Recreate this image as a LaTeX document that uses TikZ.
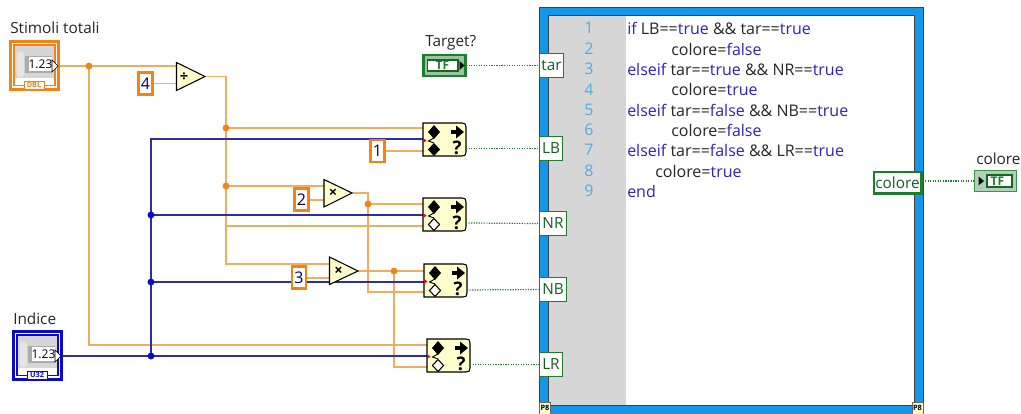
\documentclass[tikz,border=0pt]{standalone}
\usepackage{fontspec}
\setmainfont{Open Sans}
\definecolor{wo}{RGB}{240,172,95}
\definecolor{wod}{RGB}{245,130,20}
\definecolor{wb}{RGB}{45,45,170}
\definecolor{wbd}{RGB}{10,10,200}
\definecolor{gd}{RGB}{30,125,45}
\definecolor{lb}{RGB}{20,150,235}
\definecolor{yel}{RGB}{255,255,205}
\definecolor{kw}{RGB}{45,35,190}
\definecolor{ln}{RGB}{85,170,225}
\definecolor{gy}{RGB}{214,214,214}
\tikzset{
 oww/.style={wo,line width=1.4pt},
 bww/.style={wb,line width=1.2pt},
 gww/.style={gd,densely dotted,line width=.9pt},
 odot/.style={circle,fill=wod,inner sep=0pt,minimum size=5.2pt},
 bdot/.style={circle,fill=wbd,inner sep=0pt,minimum size=5.2pt},
 const/.style={draw=wod,line width=2.2pt,fill=white,inner sep=0pt,minimum width=10.5pt,minimum height=16.5pt,font=\fontsize{12}{14}\selectfont,text=black!65!blue},
 tun/.style={draw=gd,line width=1pt,fill=white,inner sep=0pt,minimum height=18pt,text=gd!75!black,font=\fontsize{11.5}{13}\selectfont},
 lbl/.style={inner sep=0pt,font=\fontsize{11.5}{13}\selectfont,text=black!85},
 code/.style={inner sep=0pt,anchor=west,font=\fontsize{12}{14}\selectfont,text=black!85},
 lnum/.style={inner sep=0pt,font=\fontsize{12}{14}\selectfont,text=ln},
 prim/.style={draw=black,line width=.8pt,fill=yel,line join=miter},
 tagbox/.style={draw=black!60,fill=yel,line width=.5pt,inner sep=0pt,minimum width=8pt,minimum height=9pt,font=\bfseries\fontsize{5.5}{6}\selectfont}
}
\newcommand{\kw}[1]{\textcolor{kw}{#1}}
\newcommand{\numctl}[5]{%
 \begin{scope}[shift={(#1,#2)}]
 \draw[#3,line width=2.2pt,fill=white] (0,0) rectangle (48,48);
 \fill[gy] (3.5,3.5) rectangle (44.5,36);
 \draw[#3,line width=.9pt] (3.5,36) -- (3.5,44) -- (44.5,44) -- (44.5,36);
 \draw[#3,line width=.9pt] (3.5,36) -- (3.5,3.5) -- (44.5,3.5) -- (44.5,36);
 \fill[gray!65] (8,14) rectangle (41,31);
 \fill[gray!20,rounded corners=3pt] (6,10) rectangle (14,36);
 \node[fill=white,inner sep=0pt,minimum width=17.5pt,minimum height=10pt,font=\fontsize{9}{10}\selectfont] (#4) at (30,22.5) {1.23};
 \fill[white,draw=black,line width=.5pt] (41.5,18.5)--(47.5,24.5)--(41.5,30.5)--cycle;
 \node[fill=white,draw=#3,line width=.5pt,inner sep=0pt,minimum width=15pt,minimum height=6pt,font=\bfseries\fontsize{5.5}{6}\selectfont,text=#3] at (23.5,43.5) {#5};
 \end{scope}}
\newcommand{\sel}[3]{%
 \begin{scope}[shift={(#1,#2)}]
 \draw[prim] (0,0) -- (39,0) .. controls (42,0) and (43,1) .. (43,4) -- (43,29) .. controls (43,32) and (42,33) .. (39,33) -- (0,33) -- cycle;
 \fill[black] (11,2) -- (17,9) -- (11,16) -- (5,9) -- cycle;
 \draw[black,line width=.7pt] (11,15) -- (5.5,18) -- (11,20);
 \fill[red] (0,15) -- (3.5,17.5) -- (0,20) -- cycle;
 #3
 \fill[black] (28,7.3) rectangle (34,10.7);
 \fill[black] (33,2.5) -- (41,9) -- (33,15.5) -- cycle;
 \node[inner sep=0pt,font=\bfseries\fontsize{14}{15}\selectfont] at (34,25) {?};
 \end{scope}}
\begin{document}
\begin{tikzpicture}[x=0.75pt,y=-0.75pt]
\useasboundingbox (0,0) rectangle (1021,414);
\fill[white] (0,0) rectangle (1021,414);
\coordinate (j1) at (89,66);
\coordinate (j2) at (226,128);
\coordinate (j3) at (226,186);
\coordinate (j4) at (368,204);
\coordinate (j5) at (394,271);
\coordinate (j6) at (151,215);
\coordinate (j7) at (151,282);
\coordinate (j8) at (151,356);
% structure frame
\fill[lb] (539.5,7.5) rectangle (923,414);
\fill[white] (548,15) rectangle (914.5,405.5);
\fill[gy] (548,15) rectangle (626,405.5);
\draw[black!75,line width=.7pt] (539.5,414) -- (539.5,7.5) -- (923,7.5) -- (923,414);
\draw[black!75,line width=.7pt] (548,405.5) -- (548,15) -- (914.5,15) -- (914.5,405.5) -- cycle;
% orange wires
\draw[oww] (58,66) -- (177,66);
\draw[oww] (89,66) -- (89,345) -- (428,345);
\draw[oww] (153,83.5) -- (177,83.5);
\draw[oww] (205,76.5) -- (226,76.5) -- (226,264) -- (330,264);
\draw[oww] (226,128) -- (423,128);
\draw[oww] (226,186) -- (324,186);
\draw[oww] (226,226) -- (423,226);
\draw[oww] (309,200) -- (324,200);
\draw[oww] (352,193) -- (368,193) -- (368,292) -- (424,292);
\draw[oww] (368,204) -- (423,204);
\draw[oww] (306,278) -- (330,278);
\draw[oww] (358,271) -- (424,271);
\draw[oww] (394,271) -- (394,367) -- (428,367);
\draw[oww] (385,151) -- (423,151);
% blue wires
\draw[bww] (60,356) -- (428,356);
\draw[bww] (151,356) -- (151,139) -- (423,139);
\draw[bww] (151,215) -- (423,215);
\draw[bww] (151,282) -- (424,282);
% junctions
\node[odot] at (j1) {};\node[odot] at (j2) {};\node[odot] at (j3) {};\node[odot] at (j4) {};\node[odot] at (j5) {};
\node[bdot] at (j6) {};\node[bdot] at (j7) {};\node[bdot] at (j8) {};
% controls
\numctl{10.5}{41.5}{wod}{stim}{DBL}
\numctl{13.5}{331.5}{wbd}{ind}{U32}
\node[lbl,anchor=west] at (10,28) {Stimoli totali};
\node[lbl,anchor=west] at (13,319) {Indice};
% constants
\node[const] (c4) at (145.5,83.5) {4};
\node[const] (c1) at (377.5,151) {1};
\node[const] (c2) at (301.5,199.5) {2};
\node[const] (c3) at (299,277.5) {3};
% primitives
\draw[prim] (176.5,62.5) -- (205,76.5) -- (176.5,90.5) -- cycle;
\node[inner sep=0pt,font=\bfseries\fontsize{11}{12}\selectfont] at (184,77) {÷};
\draw[prim] (324,179.5) -- (352,193) -- (324,207) -- cycle;
\node[inner sep=0pt,font=\bfseries\fontsize{11}{12}\selectfont] at (333,193.5) {×};
\draw[prim] (329.5,257) -- (358,271) -- (329.5,284.5) -- cycle;
\node[inner sep=0pt,font=\bfseries\fontsize{11}{12}\selectfont] at (338.5,271) {×};
% selects
\sel{423}{123}{\fill[black] (11,20) -- (17,26.5) -- (11,33) -- (5,26.5) -- cycle;}
\sel{423}{198}{\draw[black,fill=white,line width=.8pt] (11,20.5) -- (16.5,26.5) -- (11,32.5) -- (5.5,26.5) -- cycle;}
\sel{424}{264}{\draw[black,fill=white,line width=.8pt] (11,20.5) -- (16.5,26.5) -- (11,32.5) -- (5.5,26.5) -- cycle;}
\sel{427}{339}{\draw[black,fill=white,line width=.8pt] (11,20.5) -- (16.5,26.5) -- (11,32.5) -- (5.5,26.5) -- cycle;}
\coordinate (s1) at (466,148.5);
\coordinate (s2) at (466,223);
\coordinate (s3) at (467,290);
\coordinate (s4) at (470,364.5);
% tunnels
\node[tun,minimum width=18pt] (tar) at (551.5,65.5) {tar};
\node[tun,minimum width=17.5pt] (LB) at (551,148.5) {LB};
\node[tun,minimum width=20.5pt] (NR) at (553,223.5) {NR};
\node[tun,minimum width=20.5pt] (NB) at (553,289.5) {NB};
\node[tun,minimum width=17.5pt] (LR) at (551,364.5) {LR};
\node[tun,line width=2pt,minimum width=35.5pt,minimum height=16pt] (col) at (897.5,182.5) {colore};
\draw[gww] (s1) -- (LB.west);
\draw[gww] (s2) -- (NR.west);
\draw[gww] (s3) -- (NB.west);
\draw[gww] (s4) -- (LR.west);
% Target
\node[lbl,anchor=west] at (425,43) {Target?};
\begin{scope}[shift={(423.5,55)}]
\draw[gd,line width=1.8pt,fill=gd!45] (0,0) rectangle (42,21);
\draw[gd!80!black,line width=.8pt,fill=white] (4,5) rectangle (34.5,16);
\node[inner sep=0pt,font=\bfseries\fontsize{9}{10}\selectfont,text=gd] at (19,10.7) {TF};
\fill[black] (36,6) -- (41,10.5) -- (36,15) -- cycle;
\end{scope}
\coordinate (tf) at (466,65.5);
\draw[gww] (tf) -- (tar.west);
% colore out
\node[lbl,anchor=west] at (976,159) {colore};
\begin{scope}[shift={(974.5,170.5)}]
\draw[gd!85,line width=.9pt,fill=gd!35] (0,0) rectangle (42,21);
\draw[gd!80!black,line width=.8pt,fill=white] (12.5,4.5) rectangle (37.5,16.5);
\node[inner sep=0pt,font=\bfseries\fontsize{9}{10}\selectfont,text=gd] at (23,10.7) {TF};
\fill[black] (4,6) -- (9.5,10.5) -- (4,15) -- cycle;
\end{scope}
\coordinate (cf) at (974,181);
\draw[gww] (col.east |- cf) -- (cf);
% line numbers
\foreach \n/\y in {1/28,2/49,3/69,4/89.5,5/110,6/130,7/150,8/171,9/191}{\node[lnum] at (589,\y) {\n};}
% code
\node[code] at (627,28) {\kw{if} LB==\kw{true} \&\& tar==\kw{true}};
\node[code] at (671,49) {colore=\kw{false}};
\node[code] at (627,69) {\kw{elseif} tar==\kw{true} \&\& NR==\kw{true}};
\node[code] at (671,89.5) {colore=\kw{true}};
\node[code] at (627,110) {\kw{elseif} tar==\kw{false} \&\& NB==\kw{true}};
\node[code] at (671,130) {colore=\kw{false}};
\node[code] at (627,150) {\kw{elseif} tar==\kw{false} \&\& LR==\kw{true}};
\node[code] at (655,171) {colore=\kw{true}};
\node[code] at (627,191) {\kw{end}};
% corner tags
\node[tagbox] (t1) at (545,408) {P8};
\node[tagbox] (t2) at (917.5,408) {P8};
\end{tikzpicture}
\end{document}
